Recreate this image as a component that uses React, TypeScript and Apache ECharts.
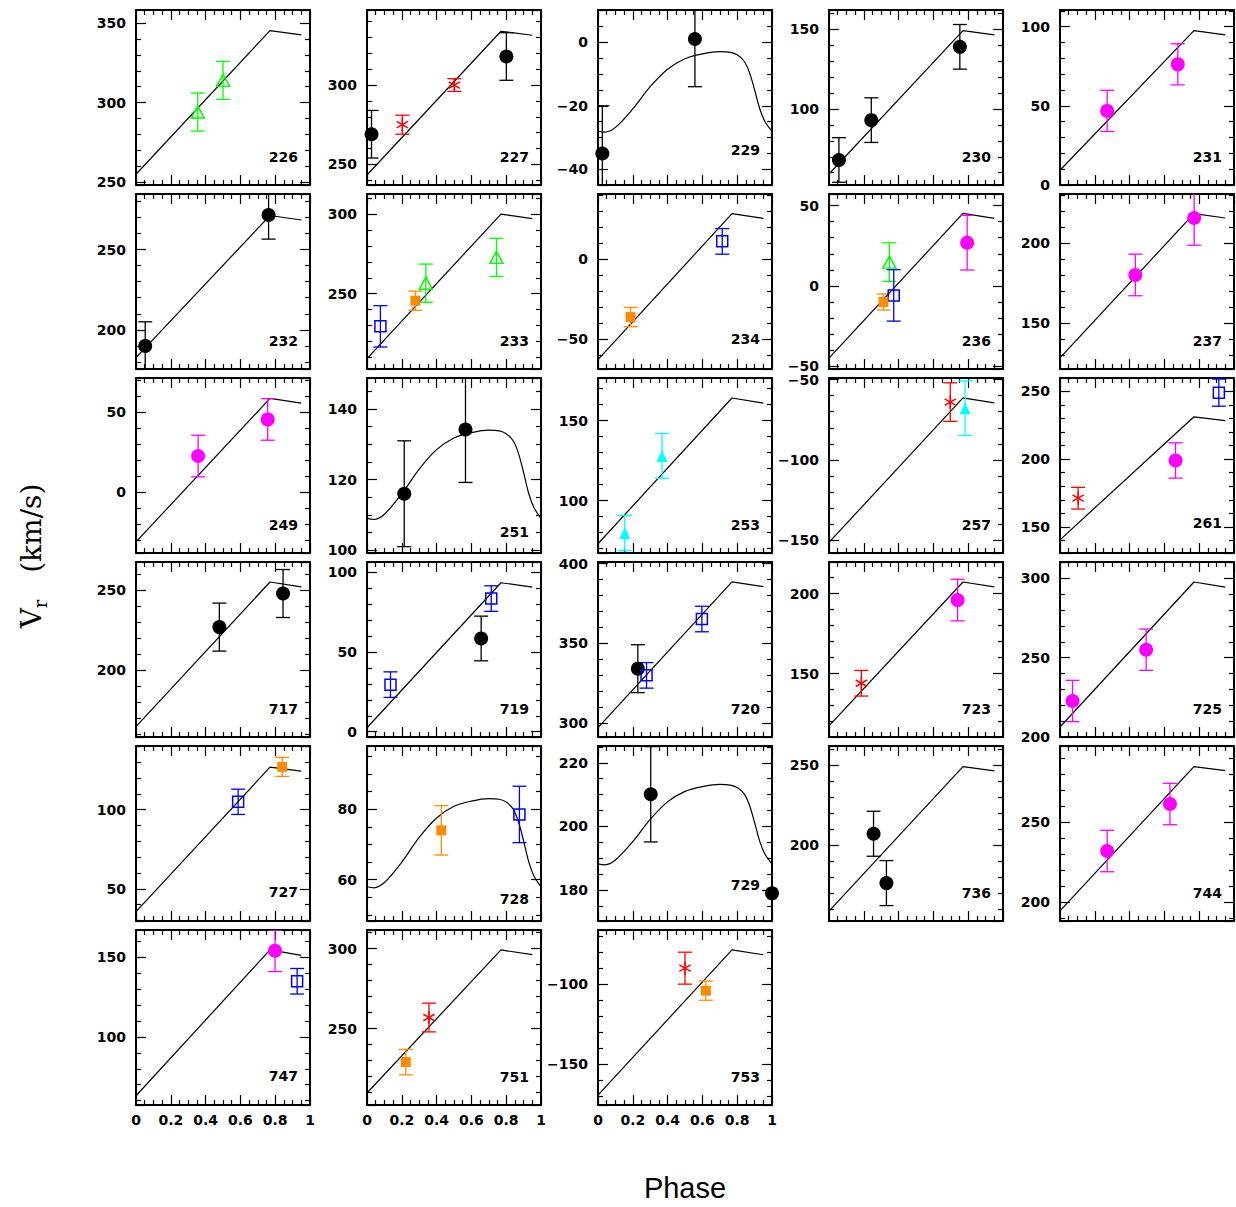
import React, { useEffect, useRef } from 'react';
import * as echarts from 'echarts';

// ---------- panels (row-major, 5 per row) ----------
const panelNames = ['226', '227', '229', '230', '231', '232', '233', '234', '236', '237', '249', '251', '253', '257', '261', '717', '719', '720', '723', '725', '727', '728', '729', '736', '744', '747', '751', '753'];

const yMin = [248, 237, -44.9, 52.3, 0, 175.6, 202.7, -68.75, -51.7, 121.2, -37.9, 99.2, 67.3, -158, 130.8, 158.3, -3.3, 291.4, 110.4, 200, 29.6, 48.3, 170.2, 152.9, 188.1, 57.3, 202.1, -175.6];
const yMax = [358.4, 347.3, 10.1, 162.1, 110.5, 284.6, 312.6, 40.6, 57.2, 230.6, 71.5, 148.8, 176.7, -49, 259.8, 267.7, 106.3, 401, 219.8, 310.3, 140.3, 97.9, 225.3, 261.8, 297.9, 166.9, 311.7, -66];
const yStep = [50, 50, 20, 50, 50, 50, 50, 50, 50, 50, 50, 20, 50, 50, 50, 50, 50, 50, 50, 50, 50, 20, 20, 50, 50, 50, 50, 50];

// ---------- model: broken-line template (phase 0, peak, end) ----------
const sawPhases = [0, 0.77, 0.95];
const modelStart = [254.8, 243.3, null, 59.2, 9.3, 182.7, 209.2, -62.9, -44.9, 128.1, -31, null, 73.1, -151.4, 140.5, 164.8, 2.5, 297.3, 117.3, 206.3, 35.5, null, null, 159.1, 194.4, 63.1, 209.6, -169.4];
const modelPeak = [345.4, 333.9, null, 149.2, 97.5, 271.2, 300, 28.3, 45.1, 218.3, 58.75, null, 164.2, -61.4, 231.2, 255.2, 93.3, 388.5, 207.3, 297.7, 126.9, null, null, 249, 285, 154.4, 299.2, -78.5];
const modelEnd = [342.7, 331.4, null, 146.5, 94.8, 268.4, 297.1, 25.4, 42, 215.6, 55.8, null, 161, -64.5, 228.4, 252.1, 90.6, 385.6, 204.2, 294.5, 124.4, null, null, 246.3, 282.5, 151, 296.3, -81.5];

// ---------- model: smooth curves ----------
const curvePhases = [0, 0.04, 0.1, 0.2, 0.3, 0.4, 0.5, 0.6, 0.7, 0.76, 0.8, 0.84, 0.87, 0.9, 0.93, 0.96, 1.0];
const curve229 = [-28, -28.3, -26.8, -21, -14, -8.5, -5.2, -3.7, -3, -3.2, -4, -6, -9.5, -15, -21, -25, -28];
const curve251 = [109, 108.7, 110.2, 116, 123, 128.5, 131.8, 133.3, 134, 133.8, 133, 131, 127.5, 122, 116, 112, 109];
const curve728 = [58, 57.7, 59.2, 65, 72, 77.5, 80.8, 82.3, 83, 82.8, 82, 80, 76.5, 71, 65, 61, 58];
const curve729 = [188.2, 187.9, 189.4, 195.2, 202.2, 207.7, 211, 212.5, 213.2, 213, 212.2, 210.2, 206.7, 201.2, 195.2, 191.2, 188.2];
const curvePanels = ['229', '251', '728', '729'];
const curveValues = [curve229, curve251, curve728, curve729];

// ---------- observations: [panel, phase, Vr, error] ----------
const blackCircles: [string, number, number, number][] = [
  ['227', 0.026, 269, 15], ['227', 0.801, 318, 15],
  ['229', 0.025, -35, 15], ['229', 0.557, 1, 15],
  ['230', 0.057, 68, 14], ['230', 0.243, 93, 14], ['230', 0.752, 139, 14],
  ['232', 0.053, 190, 15], ['232', 0.762, 271.5, 15],
  ['251', 0.214, 116, 15], ['251', 0.566, 134.2, 15],
  ['717', 0.479, 227, 15], ['717', 0.845, 248, 15],
  ['719', 0.656, 58.4, 14],
  ['720', 0.229, 334.2, 15],
  ['729', 0.303, 210.1, 15], ['729', 1.0, 178.9, 0],
  ['736', 0.256, 207.2, 14], ['736', 0.33, 176.5, 14],
];
const magentaCircles: [string, number, number, number][] = [
  ['231', 0.271, 46.8, 13], ['231', 0.677, 76.2, 13],
  ['236', 0.794, 26.9, 17],
  ['237', 0.433, 180, 13], ['237', 0.771, 215.6, 17],
  ['249', 0.357, 22.7, 13], ['249', 0.757, 45.6, 13],
  ['261', 0.664, 199, 13],
  ['723', 0.739, 196, 13],
  ['725', 0.072, 222.7, 13], ['725', 0.495, 255, 13],
  ['744', 0.271, 232, 13], ['744', 0.632, 261.5, 13],
  ['747', 0.799, 153.9, 13],
];
const greenTriangles: [string, number, number, number][] = [
  ['226', 0.355, 294, 12], ['226', 0.5, 314, 12],
  ['233', 0.338, 256.6, 12], ['233', 0.744, 272.8, 12],
  ['236', 0.347, 14.8, 12],
];
const redStars: [string, number, number, number][] = [
  ['227', 0.203, 275, 6], ['227', 0.502, 300, 4],
  ['257', 0.697, -64, 12],
  ['261', 0.104, 171.2, 8],
  ['723', 0.186, 144, 8],
  ['751', 0.356, 256.9, 9],
  ['753', 0.5, -89.9, 10],
];
const blueSquares: [string, number, number, number][] = [
  ['233', 0.077, 229.5, 13],
  ['234', 0.714, 11, 8],
  ['236', 0.372, -5.9, 16],
  ['261', 0.913, 249, 10],
  ['719', 0.135, 29.5, 8], ['719', 0.714, 83.4, 8],
  ['720', 0.279, 330, 8], ['720', 0.597, 365.3, 8],
  ['727', 0.587, 105, 8],
  ['728', 0.876, 78.5, 8],
  ['747', 0.926, 134.8, 8],
];
const orangeSquares: [string, number, number, number][] = [
  ['233', 0.278, 245.6, 6],
  ['234', 0.187, -36.3, 6],
  ['236', 0.313, -10, 5],
  ['727', 0.84, 127.1, 6],
  ['728', 0.427, 74, 7],
  ['751', 0.223, 229, 8],
  ['753', 0.62, -104, 6],
];
const cyanTriangles: [string, number, number, number][] = [
  ['253', 0.154, 79.8, 11], ['253', 0.368, 128, 14],
  ['257', 0.782, -67.8, 17],
];

const xTitle = 'Phase';

// ---------- layout ----------
const PANEL_W = 174;
const PANEL_H = 175;
const COL0 = 136;
const COL_PITCH = 231;
const ROW0 = 10;
const ROW_PITCH = 184;
const labelRaise = [28, 28, 35, 28, 28, 28, 28, 30, 28, 28, 28, 21, 28, 28, 30, 28, 28, 28, 28, 28, 29, 22, 36, 28, 28, 29, 28, 28];
const FONT = 'DejaVu Sans';
const FONT_SIZE = 14;
const FONT_WEIGHT = 'bold';
const STAR_PATH = 'path://M0,-10L0,10M-8.66,-5L8.66,5M-8.66,5L8.66,-5';

const markerTypes = [
  { data: blackCircles, color: '#000000', symbol: 'circle', size: 14 as any, filled: true },
  { data: magentaCircles, color: '#ff00ff', symbol: 'circle', size: 14 as any, filled: true },
  { data: greenTriangles, color: '#00ff00', symbol: 'triangle', size: [13, 12] as any, filled: false },
  { data: redStars, color: '#ff0000', symbol: STAR_PATH, size: 13 as any, filled: false },
  { data: blueSquares, color: '#0000ff', symbol: 'rect', size: 11 as any, filled: false },
  { data: orangeSquares, color: '#ff8c00', symbol: 'rect', size: 10 as any, filled: true },
  { data: cyanTriangles, color: '#00ffff', symbol: 'triangle', size: [11, 12] as any, filled: true },
];

const isMultiple = (v: number, s: number) => Math.abs(v / s - Math.round(v / s)) < 1e-9;
const fmt = (v: number) => (v < 0 ? '\u2212' + String(Math.abs(v)) : String(v));

function errorRenderer(color: string) {
  return (_params: any, api: any) => {
    const x = api.value(0);
    const v = api.value(1);
    const e = api.value(2);
    const hi = api.coord([x, v + e]);
    const lo = api.coord([x, v - e]);
    const hw = 7;
    const style = { stroke: color, lineWidth: 1.3, fill: 'none' };
    return {
      type: 'group',
      children: [
        { type: 'line', shape: { x1: hi[0], y1: hi[1], x2: lo[0], y2: lo[1] }, style },
        { type: 'line', shape: { x1: hi[0] - hw, y1: hi[1], x2: hi[0] + hw, y2: hi[1] }, style },
        { type: 'line', shape: { x1: lo[0] - hw, y1: lo[1], x2: lo[0] + hw, y2: lo[1] }, style },
      ],
    };
  };
}

function buildOption() {
  const grids: any[] = [];
  const xAxes: any[] = [];
  const yAxes: any[] = [];
  const series: any[] = [];
  const graphics: any[] = [];

  const lineBlack = { color: '#000', width: 1.2 };

  panelNames.forEach((name, i) => {
    const r = Math.floor(i / 5);
    const c = i % 5;
    const left = COL0 + COL_PITCH * c;
    const top = ROW0 + ROW_PITCH * r;
    const bottomRow = r === 5;
    grids.push({ left, top, width: PANEL_W, height: PANEL_H, containLabel: false });

    const xBase = {
      type: 'value',
      gridIndex: i,
      min: 0,
      max: 1,
      interval: 0.2,
      axisLine: { show: true, onZero: false, lineStyle: { color: '#000', width: 2 } },
      axisTick: { show: true, inside: true, length: 10, lineStyle: lineBlack },
      minorTick: { show: true, splitNumber: 4, length: 5, lineStyle: lineBlack },
      splitLine: { show: false },
      minorSplitLine: { show: false },
    };
    xAxes.push({
      ...xBase,
      position: 'bottom',
      axisLabel: {
        show: bottomRow,
        color: '#000',
        fontSize: FONT_SIZE,
        fontWeight: FONT_WEIGHT,
        fontFamily: FONT,
        margin: 8,
      },
    });
    xAxes.push({ ...xBase, position: 'top', axisLabel: { show: false } });

    const step = yStep[i];
    const yBase = {
      type: 'value',
      gridIndex: i,
      min: yMin[i],
      max: yMax[i],
      minInterval: step,
      maxInterval: step,
      axisLine: { show: true, onZero: false, lineStyle: { color: '#000', width: 2 } },
      axisTick: { show: true, inside: true, length: 10, lineStyle: lineBlack },
      minorTick: { show: true, splitNumber: step === 20 ? 4 : 5, length: 5, lineStyle: lineBlack },
      splitLine: { show: false },
      minorSplitLine: { show: false },
    };
    yAxes.push({
      ...yBase,
      position: 'left',
      axisLabel: {
        show: true,
        showMinLabel: isMultiple(yMin[i], step),
        showMaxLabel: isMultiple(yMax[i], step),
        formatter: fmt,
        color: '#000',
        fontSize: FONT_SIZE,
        fontWeight: FONT_WEIGHT,
        fontFamily: FONT,
        lineHeight: 12,
        margin: 10,
      },
    });
    yAxes.push({ ...yBase, position: 'right', axisLabel: { show: false } });

    // model line
    const ci = curvePanels.indexOf(name);
    let modelData: number[][];
    if (ci >= 0) {
      modelData = curvePhases.map((p, k) => [p, curveValues[ci][k]]);
    } else {
      const vals = [modelStart[i] as number, modelPeak[i] as number, modelEnd[i] as number];
      modelData = sawPhases.map((p, k) => [p, vals[k]]);
    }
    series.push({
      type: 'line',
      xAxisIndex: 2 * i,
      yAxisIndex: 2 * i,
      data: modelData,
      showSymbol: false,
      symbol: 'none',
      smooth: ci >= 0 ? 0.35 : false,
      lineStyle: { color: '#000', width: 1.2 },
      silent: true,
      z: 2,
    });

    // observations
    markerTypes.forEach((mt) => {
      const pts = mt.data.filter((d) => d[0] === name);
      if (!pts.length) return;
      const withErr = pts.filter((d) => d[3] > 0);
      if (withErr.length) {
        series.push({
          type: 'custom',
          xAxisIndex: 2 * i,
          yAxisIndex: 2 * i,
          data: withErr.map((d) => [d[1], d[2], d[3]]),
          encode: { x: 0, y: 1 },
          renderItem: errorRenderer(mt.color),
          clip: true,
          silent: true,
          z: 3,
        });
      }
      series.push({
        type: 'scatter',
        xAxisIndex: 2 * i,
        yAxisIndex: 2 * i,
        data: pts.map((d) => [d[1], d[2]]),
        symbol: mt.symbol,
        symbolSize: mt.size,
        symbolKeepAspect: true,
        clip: false,
        silent: true,
        itemStyle: mt.filled
          ? { color: mt.color, opacity: 1 }
          : { color: 'rgba(0,0,0,0)', borderColor: mt.color, borderWidth: 1.5, opacity: 1 },
        z: 4,
      });
    });

    graphics.push({
      type: 'text',
      x: left + PANEL_W - 12,
      y: top + PANEL_H - labelRaise[i],
      style: {
        text: name,
        fill: '#000',
        fontSize: FONT_SIZE,
        fontWeight: FONT_WEIGHT,
        fontFamily: FONT,
        align: 'right',
        verticalAlign: 'middle',
      },
      z: 10,
    });
  });

  graphics.push({
    type: 'text',
    x: 685,
    y: 1188,
    style: {
      text: xTitle,
      fill: '#000',
      fontSize: 29,
      fontFamily: 'Liberation Sans',
      align: 'center',
      verticalAlign: 'middle',
    },
  });
  graphics.push({
    type: 'text',
    x: 31,
    y: 556,
    rotation: Math.PI / 2,
    style: {
      text: '{v|V}{s|r}{v|   (km/s)}',
      fill: '#000',
      align: 'center',
      verticalAlign: 'middle',
      rich: {
        v: { fontSize: 28, fontFamily: 'DejaVu Serif', lineHeight: 36, fill: '#000' },
        s: { fontSize: 18, fontFamily: 'DejaVu Serif', lineHeight: 14, verticalAlign: 'bottom', fill: '#000' },
      },
    },
  });

  return {
    animation: false,
    backgroundColor: '#ffffff',
    grid: grids,
    xAxis: xAxes,
    yAxis: yAxes,
    series,
    graphic: graphics,
  };
}

export default function App() {
  const ref = useRef<HTMLDivElement>(null);
  useEffect(() => {
    if (!ref.current) return;
    const chart = echarts.init(ref.current, null, { renderer: 'svg' });
    chart.setOption(buildOption() as any);
    return () => chart.dispose();
  }, []);
  return (
    <div
      ref={ref}
      style={{ position: 'absolute', left: 0, top: 0, width: 1236, height: 1207, background: '#fff' }}
    />
  );
}
